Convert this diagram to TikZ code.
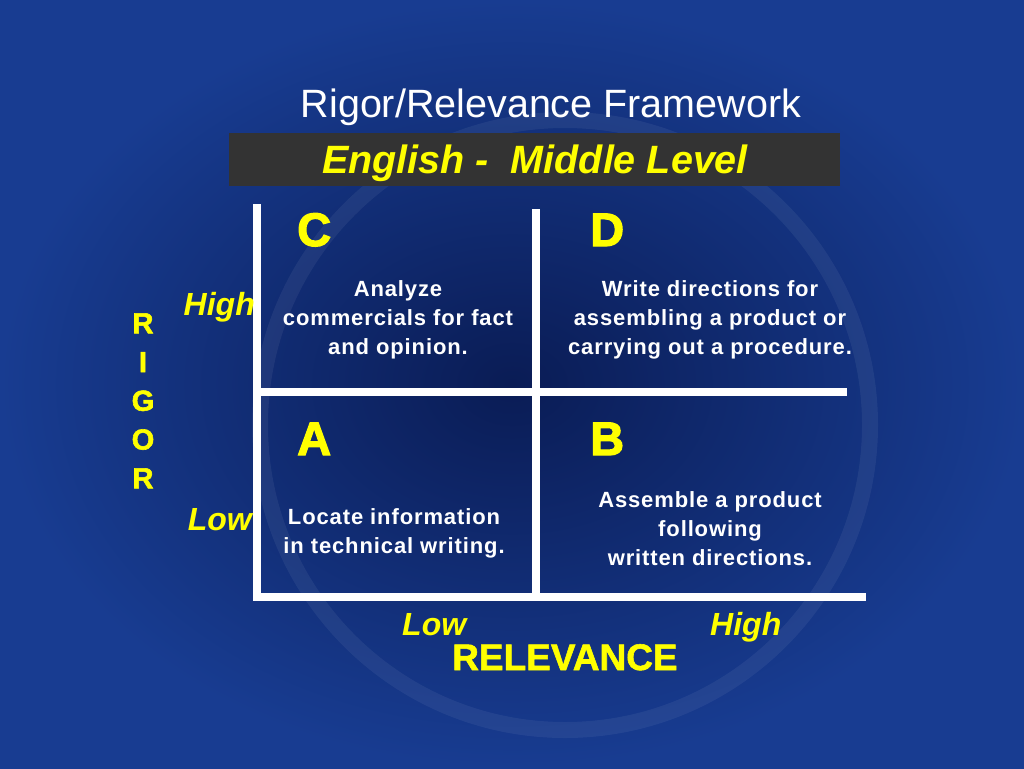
\documentclass[tikz,border=0pt]{standalone}
\usepackage{fontspec}
\setmainfont{Liberation Sans}
\usepackage{xcolor}
\usetikzlibrary{positioning}
\definecolor{slideblue}{RGB}{24,60,145}
\definecolor{slidenavy}{RGB}{10,28,85}
\definecolor{bargray}{RGB}{51,51,51}
\definecolor{gridyellow}{RGB}{255,255,0}

\tikzset{
  titletext/.style={text=white, inner sep=0pt, font=\fontsize{39.5}{47}\selectfont},
  subtitletext/.style={text=gridyellow, inner sep=0pt, font=\fontsize{39.5}{47}\selectfont\bfseries\itshape},
  cellletter/.style={text=gridyellow, inner sep=0pt, font=\fontsize{47}{47}\selectfont\bfseries\addfontfeature{FakeBold=2.5}},
  celltext/.style={text=white, inner sep=0pt, align=center,
    font=\fontsize{22}{29}\selectfont\bfseries\addfontfeature{LetterSpace=4}},
  axislabel/.style={text=gridyellow, inner sep=0pt, font=\fontsize{32}{32}\selectfont\bfseries\itshape},
  rigorletter/.style={text=gridyellow, inner sep=0pt, font=\fontsize{29}{29}\selectfont\bfseries\addfontfeature{FakeBold=2}},
  gridline/.style={white, line width=8pt},
}

\begin{document}
\begin{tikzpicture}[x=1pt,y=-1pt]

% background
\shade[inner color=slidenavy, outer color=slideblue] (0,0) rectangle (1024,768);
\draw[white, opacity=0.06, line width=16pt] (565,425) circle (305);
\useasboundingbox (0,0) rectangle (1024,768);

% heading
\node[titletext, anchor=base] (title) at (551,117) {Rigor/Relevance Framework};
\node[fill=bargray, minimum width=611pt, minimum height=53pt, inner sep=0pt] (bar) at (534.5,159.5) {};
\node[subtitletext, anchor=base] (subtitle) at (535,173) {English -\ \ Middle Level};

% grid
\coordinate (gridtl) at (257,204);
\coordinate (gridbl) at (257,597);
\coordinate (gridbr) at (866,597);
\coordinate (midtop) at (535.5,209);
\coordinate (midbot) at (535.5,597);
\coordinate (rowl) at (260,392);
\coordinate (rowr) at (847,392);
\draw[gridline] (gridtl) -- (gridbl) -- (gridbr);
\draw[gridline] (midtop) -- (midbot);
\draw[gridline] (rowl) -- (rowr);

% quadrants
\node[cellletter, anchor=base west] (cellC) at (297,246) {C};
\node[cellletter, anchor=base west] (cellD) at (590,246) {D};
\node[cellletter, anchor=base west] (cellA) at (297,455) {A};
\node[cellletter, anchor=base west] (cellB) at (590,455) {B};

% anchor base = last line
\node[celltext, anchor=base] (textC) at (398,354) {Analyze\\commercials for fact\\and opinion.};
\node[celltext, anchor=base] (textD) at (710,354) {Write directions for\\assembling a product or\\carrying out a procedure.};
\node[celltext, anchor=base] (textA) at (394,553) {Locate information\\in technical writing.};
\node[celltext, anchor=base] (textB) at (710,565) {Assemble a product\\following\\written directions.};

% axes
\node[axislabel, anchor=base east] (rigorhigh) at (255,315) {High};
\node[axislabel, anchor=base east] (rigorlow) at (252,530) {Low};
\foreach \ch [count=\i] in {R,I,G,O,R}
  \node[rigorletter, anchor=base] (rigor\i) at (143,{294.5+38.75*\i}) {\ch};

\node[axislabel, anchor=base west] (relevlow) at (402,635) {Low};
\node[axislabel, anchor=base west] (relevhigh) at (710,635) {High};
\node[text=gridyellow, inner sep=0pt, anchor=base west,
  font=\fontsize{37}{37}\selectfont\bfseries\addfontfeature{FakeBold=1.5}] (relevance) at (452,670) {RELEVANCE};

\end{tikzpicture}
\end{document}
